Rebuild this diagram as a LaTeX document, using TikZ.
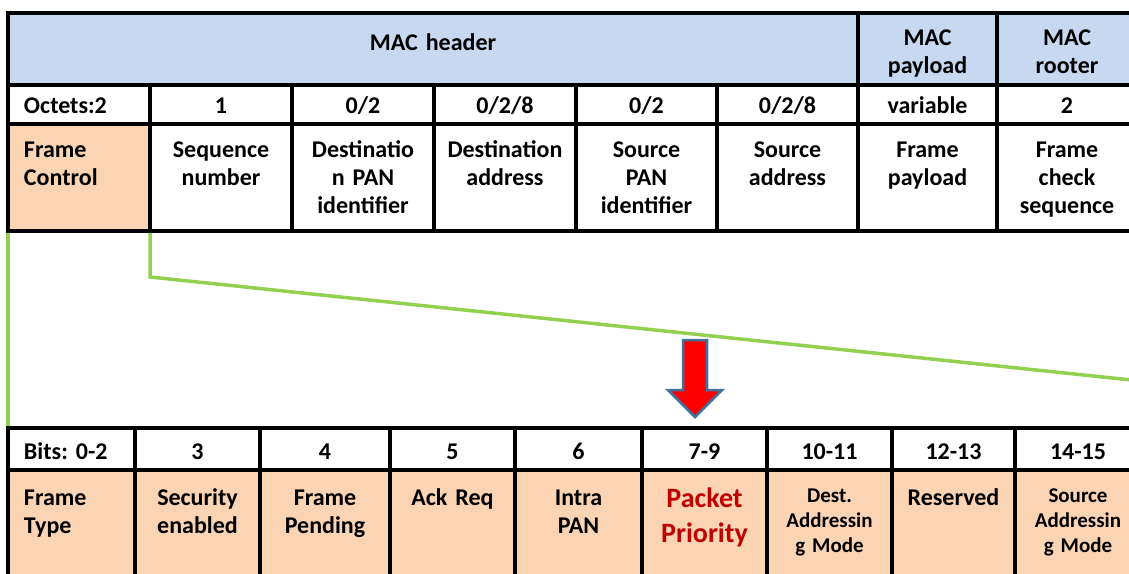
\documentclass[tikz,border=0pt]{standalone}
\usepackage{fontspec}
\setmainfont{Carlito}
\usetikzlibrary{positioning}

\definecolor{hdrblue}{RGB}{198,217,241}
\definecolor{fldorange}{RGB}{251,212,180}
\definecolor{linkgreen}{RGB}{146,208,80}
\definecolor{prioritytext}{RGB}{192,0,0}
\definecolor{arrowedge}{RGB}{65,113,156}

\begin{document}
\frenchspacing
\begin{tikzpicture}[x=1pt, y=-1pt,
    cell/.style={rectangle, draw, line width=3.5pt, inner sep=0pt, outer sep=0pt, text width=#1pt, align=center,
        anchor=north west, font=\bfseries\fontsize{24}{28}\selectfont},
    hdr/.style={cell=#1, fill=hdrblue, text height=37pt, text depth=35pt},
    octets/.style={cell=#1, fill=white, text height=28pt, text depth=11pt},
    field/.style={cell=#1, fill=white, text height=33pt, text depth=74pt},
    bits/.style={cell=#1, fill=white, text height=31pt, text depth=11pt},
    flag/.style={cell=#1, fill=fldorange, text height=35pt, text depth=80pt},
    padleft/.style={align=left, execute at begin node={\leftskip=16pt}},
    smalltext/.style={font=\bfseries\fontsize{21}{25}\selectfont, text height=32pt, text depth=83pt},
    link/.style={draw=linkgreen, line width=3.5pt, shorten <=1.75pt, shorten >=1.75pt}]
    \useasboundingbox (0,0) rectangle (1129,573);
    \clip (0,0) rectangle (1129,573);

    % MAC frame
    \node [hdr=850] (machdr) at (8,13) {MAC header};
    \node [hdr=139, text height=32pt, text depth=40pt, right=0pt of machdr] (macpay) {MAC\\payload};
    \node [hdr=140, text height=32pt, text depth=40pt, right=0pt of macpay] (macfoot) {MAC\\rooter};

    \node [octets=142, padleft] (oct) at (8,85) {Octets:2};
    \node [octets=142, right=0pt of oct] (oseq) {1};
    \node [octets=142, right=0pt of oseq] (odstpan) {0/2};
    \node [octets=142, right=0pt of odstpan] (odstaddr) {0/2/8};
    \node [octets=141, right=0pt of odstaddr] (osrcpan) {0/2};
    \node [octets=141, right=0pt of osrcpan] (osrcaddr) {0/2/8};
    \node [octets=139, right=0pt of osrcaddr] (opayload) {variable};
    \node [octets=140, right=0pt of opayload] (ofcs) {2};

    \node [field=142, fill=fldorange, padleft] (fc) at (8,124) {Frame\\Control};
    \node [field=142, right=0pt of fc] (seq) {Sequence\\number};
    \node [field=142, right=0pt of seq] (dstpan) {Destinatio\\n PAN\\identifier};
    \node [field=142, right=0pt of dstpan] (dstaddr) {Destination\\address};
    \node [field=141, right=0pt of dstaddr] (srcpan) {Source\\PAN\\identifier};
    \node [field=141, right=0pt of srcpan] (srcaddr) {Source\\address};
    \node [field=139, right=0pt of srcaddr] (payload) {Frame\\payload};
    \node [field=140, right=0pt of payload] (fcs) {Frame\\check\\sequence};

    % frame control bits
    \node [bits=127, padleft] (b02) at (8,428) {Bits: 0-2};
    \node [bits=125, right=0pt of b02] (b3) {3};
    \node [bits=130, right=0pt of b3] (b4) {4};
    \node [bits=125, right=0pt of b4] (b5) {5};
    \node [bits=127, right=0pt of b5] (b6) {6};
    \node [bits=125, right=0pt of b6] (b79) {7-9};
    \node [bits=125, right=0pt of b79] (b1011) {10-11};
    \node [bits=123, right=0pt of b1011] (b1213) {12-13};
    \node [bits=126, right=0pt of b1213] (b1415) {14-15};

    \node [flag=127, padleft] (ftype) at (8,470) {Frame\\Type};
    \node [flag=125, right=0pt of ftype] (sec) {Security\\enabled};
    \node [flag=130, right=0pt of sec] (pend) {Frame\\Pending};
    \node [flag=125, right=0pt of pend] (ack) {Ack Req};
    \node [flag=127, right=0pt of ack] (intra) {Intra\\PAN};
    \node [flag=125, text=prioritytext, font=\bfseries\fontsize{28}{35}\selectfont,
        text height=37pt, text depth=78pt, right=0pt of intra] (prio) {Packet\\Priority};
    \node [flag=125, smalltext, right=0pt of prio] (dstmode) {Dest.\\Addressin\\g Mode};
    \node [flag=123, right=0pt of dstmode] (resv) {Reserved};
    \node [flag=126, smalltext, right=0pt of resv] (srcmode) {Source\\Addressin\\g Mode};

    % zoom lines
    \coordinate (linkend) at (1141,381);
    \path [link] (fc.south west) -- (b02.north west);
    \path [link] (fc.south east) -- ++(0,46) -- (linkend);

    \filldraw [fill=red, draw=arrowedge, line width=2.5pt]
        (683,340) -- (707,340) -- (707,390) -- (722,390) -- (695,417) -- (668,390) -- (683,390) -- cycle;
\end{tikzpicture}
\end{document}
